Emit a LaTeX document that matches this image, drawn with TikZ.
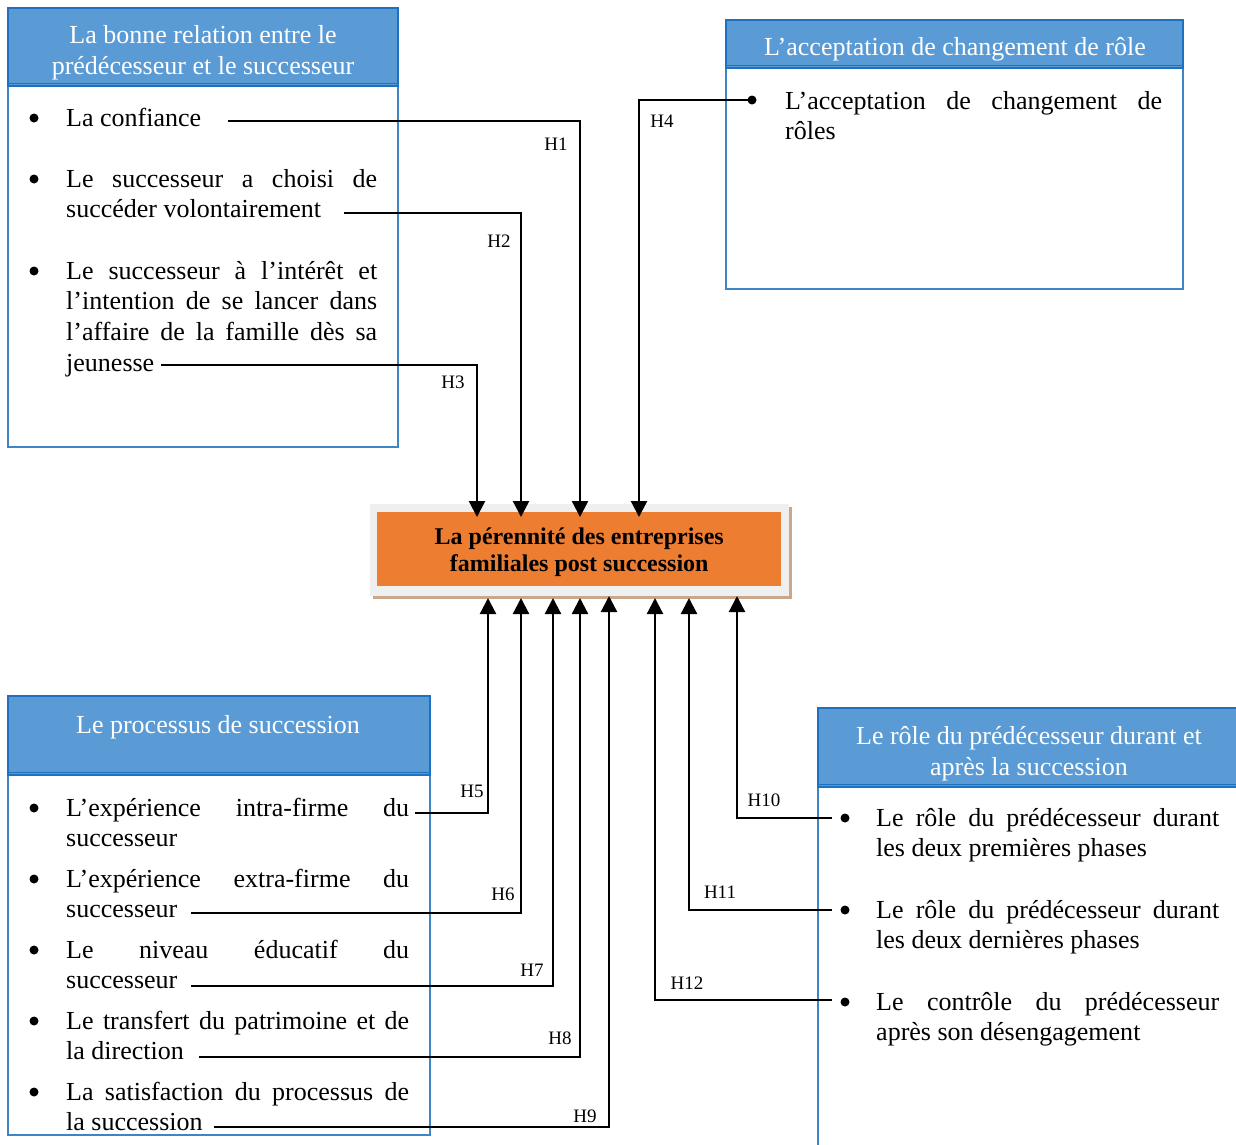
\documentclass[tikz,border=0pt]{standalone}
\usepackage{fontspec}
\setmainfont{Liberation Serif}
\usetikzlibrary{arrows.meta,calc}
\definecolor{hdr}{HTML}{5B9BD5}
\definecolor{hdrb}{HTML}{1E70C1}
\definecolor{bodyb}{HTML}{3D85C6}
\definecolor{org}{HTML}{ED7D31}
\definecolor{shd}{HTML}{C9A68C}
\definecolor{gry}{HTML}{EFEFEF}
\begin{document}
\begin{tikzpicture}[x=1pt,y=-1pt,
 bodybox/.style={draw=bodyb, line width=1.2pt},
 hdrbox/.style={fill=hdr, draw=hdrb, line width=2pt},
 hdrtext/.style={text=white, font=\fontsize{26}{31}\selectfont, align=center, inner sep=0},
 itm/.style={anchor=base west, inner sep=0, text width=#1, align=justify, font=\fontsize{26}{30.8}\selectfont},
 bul/.style={circle, fill=black, inner sep=0, minimum size=9pt},
 conn/.style={line width=2.3pt},
 arr/.style={conn, -{Triangle[width=16pt,length=16pt]}},
 hl/.style={font=\fontsize{19}{19}\selectfont, inner sep=0},
]
\clip (0,0) rectangle (1236,1144);
\fill[white] (0,0) rectangle (1236,1144);

% ---------- boxes ----------
% top-left
\draw[bodybox] (8,86) rectangle (398,447);
\draw[hdrbox] (8,8) rectangle (398,86);
\draw[hdrb, line width=1pt] (8,83) -- (398,83);
\node[hdrtext] (hTL) at (203,53) {La bonne relation entre le\\prédécesseur et le successeur};
% top-right
\draw[bodybox] (726,68) rectangle (1183,289);
\draw[hdrbox] (726,20) rectangle (1183,68);
\draw[hdrb, line width=1pt] (726,65) -- (1183,65);
\node[hdrtext] (hTR) at (955,49) {L’acceptation de changement de rôle};
% bottom-left
\draw[bodybox] (8,775) rectangle (430,1135);
\draw[hdrbox] (8,696) rectangle (430,775);
\draw[hdrb, line width=1pt] (8,772) -- (430,772);
\node[hdrtext] (hBL) at (218,727) {Le processus de succession};
% bottom-right
\draw[bodybox] (818,787) rectangle (1250,1160);
\draw[hdrbox] (818,708) rectangle (1250,787);
\draw[hdrb, line width=1pt] (818,784) -- (1250,784);
\node[hdrtext] (hBR) at (1029,754) {Le rôle du prédécesseur durant et\\après la succession};

% ---------- centre ----------
\fill[shd] (373,507) rectangle (792,599);
\fill[gry] (370,504) rectangle (789,596);
\node[fill=org, minimum width=404pt, minimum height=74pt, inner sep=0, anchor=north west] (C) at (377,512) {};
\node[font=\fontsize{24}{27}\selectfont\bfseries, align=center, inner sep=0, yshift=-3pt] (Ct) at (C.center)
      {La pérennité des entreprises\\familiales post succession};

% ---------- top-left items ----------
\node[bul] (b1) at (34,118) {};
\node[itm=311pt] (i1) at (66,126) {La confiance};
\node[bul] (b2) at (34,179) {};
\node[itm=311pt] (i2) at (66,187) {Le successeur a choisi de\linebreak succéder volontairement};
\node[bul] (b3) at (34,271) {};
\node[itm=311pt] (i3) at (66,279) {Le successeur à l’intérêt et\linebreak l’intention de se lancer dans\linebreak l’affaire de la famille dès sa\linebreak jeunesse};

% ---------- top-right item ----------
\node[bul] (b4) at (752,100) {};
\node[itm=377pt] (i4) at (785,109) {L’acceptation de changement de\linebreak rôles};

% ---------- bottom-left items ----------
\node[bul] (b5) at (34,808) {};
\node[itm=343pt] (i5) at (66,816) {L’expérience intra-firme du\linebreak successeur};
\node[bul] (b6) at (34,879) {};
\node[itm=343pt] (i6) at (66,887) {L’expérience extra-firme du\linebreak successeur};
\node[bul] (b7) at (34,950) {};
\node[itm=343pt] (i7) at (66,958) {Le niveau éducatif du\linebreak successeur};
\node[bul] (b8) at (34,1021) {};
\node[itm=343pt] (i8) at (66,1029) {Le transfert du patrimoine et de\linebreak la direction};
\node[bul] (b9) at (34,1092) {};
\node[itm=343pt] (i9) at (66,1100) {La satisfaction du processus de\linebreak la succession};

% ---------- bottom-right items ----------
\node[bul] (b10) at (845,818) {};
\node[itm=343pt] (i10) at (876,826) {Le rôle du prédécesseur durant\linebreak les deux premières phases};
\node[bul] (b11) at (845,910) {};
\node[itm=343pt] (i11) at (876,918) {Le rôle du prédécesseur durant\linebreak les deux dernières phases};
\node[bul] (b12) at (845,1002) {};
\node[itm=343pt] (i12) at (876,1010) {Le contrôle du prédécesseur\linebreak après son désengagement};

% ---------- connector start points ----------
\coordinate (s1) at (228,121);
\coordinate (s2) at (344,213);
\coordinate (s3) at (161,365);
\coordinate (s5) at (415,813);
\coordinate (s6) at (191,913);
\coordinate (s7) at (191,986);
\coordinate (s8) at (199,1057);
\coordinate (s9) at (214,1127);
\coordinate (s10) at (832,818);
\coordinate (s11) at (832,910);
\coordinate (s12) at (832,1000);
% arrow tips
\coordinate (t1) at (580,517);
\coordinate (t2) at (521,517);
\coordinate (t3) at (477,517);
\coordinate (t4) at (639,517);
\coordinate (t5) at (488,598);
\coordinate (t6) at (521,598);
\coordinate (t7) at (553,598);
\coordinate (t8) at (580,598);
\coordinate (t9) at (609,596);
\coordinate (t10) at (737,596);
\coordinate (t11) at (689,598);
\coordinate (t12) at (655,598);

\draw[arr] (s1) -| (t1);
\draw[arr] (s2) -| (t2);
\draw[arr] (s3) -| (t3);
\draw[arr] (b4.center) -| (t4);
\draw[arr] (s5) -| (t5);
\draw[arr] (s6) -| (t6);
\draw[arr] (s7) -| (t7);
\draw[arr] (s8) -| (t8);
\draw[arr] (s9) -| (t9);
\draw[arr] (s10) -| (t10);
\draw[arr] (s11) -| (t11);
\draw[arr] (s12) -| (t12);

% ---------- labels ----------
\node[hl] (H1) at (556,144) {H1};
\node[hl] (H2) at (499,241) {H2};
\node[hl] (H3) at (453,382) {H3};
\node[hl] (H4) at (662,121) {H4};
\node[hl] (H5) at (472,791) {H5};
\node[hl] (H6) at (503,894) {H6};
\node[hl] (H7) at (532,970) {H7};
\node[hl] (H8) at (560,1038) {H8};
\node[hl] (H9) at (585,1116) {H9};
\node[hl] (H10) at (764,800) {H10};
\node[hl] (H11) at (720,892) {H11};
\node[hl] (H12) at (687,983) {H12};
\end{tikzpicture}
\end{document}
